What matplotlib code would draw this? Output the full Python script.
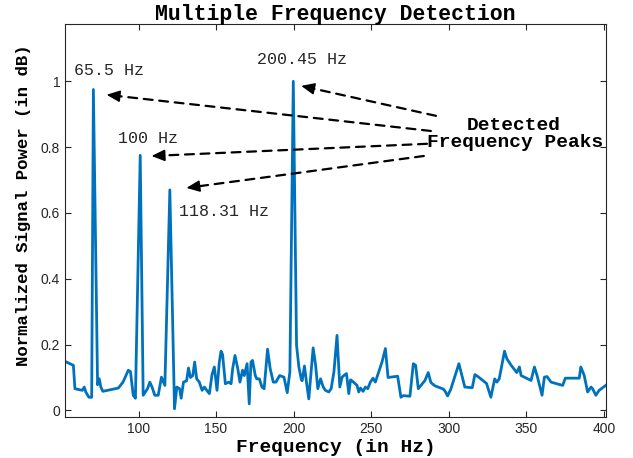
import matplotlib
matplotlib.use('Agg')
import matplotlib.pyplot as plt

# Frequências (Hz) e potência normalizada
frequencias = [52.6, 58, 59, 63.8, 65, 66, 68, 69.8, 70.9, 73.6, 74.7, 75.7, 77, 87, 90, 93.4,
               94.8, 96.6, 98, 101.1, 103, 105.8, 107.3, 108.8, 110.5, 112.7, 114.8, 117, 120.2,
               123.2, 124.7, 126.5, 127.5, 129, 131, 132.2, 133.5, 135, 136.2, 137.5, 139.2, 141,
               142.5, 144, 145.7, 147.4, 148.9, 150.6, 152.1, 153.2, 154.2, 156, 158.2, 159.7,
               160.7, 162.2, 164, 165.4, 167.1, 168.2, 170, 171.4, 172.5, 173.5, 175.3, 176.2,
               177.9, 179.6, 181, 183.2, 184.9, 186.9, 188.6, 191, 193.8, 195.9, 197.6, 199.8,
               201.9, 203.4, 204.9, 205.5, 207, 208.3, 209.8, 212.6, 214.2, 215.6, 217.4, 219.1,
               220.5, 222.7, 224.2, 226, 228, 229.8, 231.3, 232.4, 234.1, 235.6, 236.7, 238.4,
               240.9, 242, 243.1, 244.8, 246.3, 247.8, 249.5, 251.2, 252.7, 254.9, 257, 259.2,
               260.9, 267.1, 269.2, 270.7, 275, 277.2, 278.7, 280.4, 284.7, 286.8, 288.5, 291,
               296.5, 297.6, 299.3, 301.4, 306.6, 310.4, 315.2, 316.9, 319.1, 324.4, 327.2, 329.7,
               331.1, 332.6, 336, 337.5, 340.3, 343.9, 345.6, 346.7, 353.1, 355.3, 357, 360.2,
               361.7, 363.4, 366, 373.5, 375.2, 384.2, 385.2, 387.4, 389.6, 391.8, 392.8, 394.9,
               397, 401.3]
potencia = [0.149, 0.137, 0.066, 0.061, 0.071, 0.056, 0.040, 0.040, 0.975, 0.078, 0.096, 0.071,
            0.058, 0.068, 0.086, 0.122, 0.118, 0.046, 0.037, 0.775, 0.046, 0.066, 0.086, 0.070,
            0.046, 0.046, 0.101, 0.076, 0.670, 0.005, 0.071, 0.066, 0.037, 0.086, 0.090, 0.129,
            0.100, 0.106, 0.147, 0.096, 0.086, 0.061, 0.071, 0.061, 0.051, 0.109, 0.132, 0.061,
            0.147, 0.180, 0.170, 0.081, 0.086, 0.081, 0.127, 0.167, 0.127, 0.086, 0.122, 0.106,
            0.142, 0.020, 0.147, 0.152, 0.106, 0.096, 0.096, 0.071, 0.066, 0.186, 0.127, 0.086,
            0.086, 0.106, 0.101, 0.054, 0.117, 1.000, 0.198, 0.132, 0.096, 0.090, 0.135, 0.086,
            0.035, 0.190, 0.137, 0.066, 0.096, 0.071, 0.061, 0.056, 0.066, 0.117, 0.228, 0.071,
            0.101, 0.106, 0.112, 0.051, 0.093, 0.087, 0.076, 0.056, 0.068, 0.058, 0.071, 0.066,
            0.086, 0.098, 0.086, 0.117, 0.147, 0.188, 0.100, 0.104, 0.040, 0.045, 0.043, 0.142,
            0.137, 0.066, 0.091, 0.115, 0.085, 0.075, 0.065, 0.059, 0.044, 0.065, 0.142, 0.071,
            0.069, 0.109, 0.102, 0.082, 0.040, 0.096, 0.086, 0.096, 0.180, 0.157, 0.137, 0.115,
            0.132, 0.106, 0.091, 0.132, 0.106, 0.046, 0.101, 0.103, 0.086, 0.076, 0.098, 0.098,
            0.132, 0.106, 0.056, 0.071, 0.066, 0.046, 0.061, 0.076]

# Rótulos dos picos e onde ficam
rotulos_picos = ['65.5 Hz', '100 Hz', '118.31 Hz', '200.45 Hz']
rotulos_x = [58.2, 86.5, 126.4, 176.6]
rotulos_y = [1.032, 0.825, 0.603, 1.065]

# Setas: ponta e cauda
setas_ponta = [(79.4, 0.959), (108.4, 0.773), (130.9, 0.676), (204.9, 0.986)]
setas_cauda = [(288.5, 0.849), (286.0, 0.810), (284.0, 0.773), (291.8, 0.895)]

mono = 'Liberation Mono'
cinza = '#262626'

fig = plt.figure(figsize=(6.33, 4.58), dpi=100)
ax = fig.add_axes([0.1027, 0.0895, 0.8543, 0.8581])

ax.plot(frequencias, potencia, color='#0072BD', linewidth=2.0)

ax.set_xlim(52.6, 401.3)
ax.set_ylim(-0.02, 1.174)
ax.set_xticks([100, 150, 200, 250, 300, 350, 400])
ax.set_yticks([0, 0.2, 0.4, 0.6, 0.8, 1])
ax.set_yticklabels(['0', '0.2', '0.4', '0.6', '0.8', '1'])
ax.tick_params(direction='in', top=True, right=True, length=4, width=0.8,
               colors=cinza, labelsize=10)
for lbl in ax.get_xticklabels() + ax.get_yticklabels():
    lbl.set_family('Liberation Sans')
for s in ax.spines.values():
    s.set_color(cinza)
    s.set_linewidth(0.8)

ax.set_title('Multiple Frequency Detection', fontfamily=mono, fontweight='bold',
             fontsize=15.5, pad=3)
ax.set_xlabel('Frequency (in Hz)', fontfamily=mono, fontweight='bold', fontsize=14,
              labelpad=2)
ax.set_ylabel('Normalized Signal Power (in dB)', fontfamily=mono, fontweight='bold',
              fontsize=12.5)
ax.yaxis.set_label_coords(-0.062, 0.54)

# Rótulos dos picos
for txt, x, y in zip(rotulos_picos, rotulos_x, rotulos_y):
    ax.text(x, y, txt, fontfamily=mono, fontsize=12, color=cinza, ha='left', va='center')

# Setas tracejadas com ponta sólida
for ponta, cauda in zip(setas_ponta, setas_cauda):
    ax.annotate('', xy=ponta, xytext=cauda,
                arrowprops=dict(arrowstyle='-', linestyle=(0, (4, 3)), lw=1.6, color='black',
                                shrinkA=0, shrinkB=6))
    dx = cauda[0] - ponta[0]
    dy = cauda[1] - ponta[1]
    inicio = (ponta[0] + dx * 0.04, ponta[1] + dy * 0.04)
    ax.annotate('', xy=ponta, xytext=inicio,
                arrowprops=dict(arrowstyle='-|>,head_length=0.8,head_width=0.35', lw=1.2,
                                color='black', shrinkA=0, shrinkB=0))

ax.text(342, 0.865, 'Detected', fontfamily=mono, fontweight='bold', fontsize=14,
        ha='center', va='center')
ax.text(342.6, 0.813, 'Frequency Peaks', fontfamily=mono, fontweight='bold', fontsize=14,
        ha='center', va='center')

plt.savefig('out.png', dpi=100)
